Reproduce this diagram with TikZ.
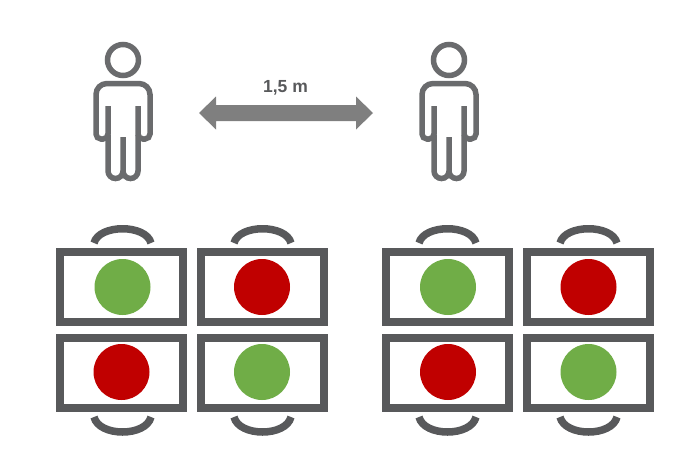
\documentclass[tikz,border=0pt]{standalone}
\usepackage{fontspec}
\setmainfont{Liberation Sans}
\definecolor{deskgray}{HTML}{58595B}
\definecolor{persongray}{HTML}{6A6B6D}
\definecolor{arrowgray}{HTML}{7F7F7F}
\definecolor{seatgreen}{HTML}{70AD47}
\definecolor{seatred}{HTML}{C00000}
\tikzset{
  desk/.style={draw=deskgray, line width=8pt, fill=white, minimum width=123pt, minimum height=70pt, inner sep=0pt},
  okseat/.style={circle, fill=seatgreen, minimum size=56pt, inner sep=0pt},
  noseat/.style={circle, fill=seatred, minimum size=56pt, inner sep=0pt},
  chair/.style={draw=deskgray, line width=7.5pt},
  figure line/.style={draw=persongray, line width=5.5pt}
}
% One standing person, x is the middle of the body
\newcommand{\person}[1]{
  \begin{scope}[shift={(#1,0)}]
    \draw[figure line] (0,60) circle (15.5);
    % Body with arms
    \draw[figure line, rounded corners=5pt] (-15,106) -- (-15,139) -- (-27,139)
      [rounded corners=11pt] -- (-27,83.5) -- (27,83.5)
      [rounded corners=5pt] -- (27,139) -- (15,139) -- (15,106);
    % Legs
    \draw[figure line] (-15,135) -- (-15,171) arc[start angle=180, end angle=0, radius=7.5]
      -- (0,137);
    \draw[figure line] (0,171) arc[start angle=180, end angle=0, radius=7.5] -- (15,135);
  \end{scope}
}
\begin{document}
\begin{tikzpicture}[x=1pt,y=-1pt]
\useasboundingbox (0,0) rectangle (700,463);
% Persons
\person{123}
\person{449}
% Distance
\fill[arrowgray] (199,113) -- (216,96.5) -- (216,105) -- (356,105) -- (356,96.5)
  -- (373,113) -- (356,129.5) -- (356,121) -- (216,121) -- (216,129.5) -- cycle;
\node[font=\bfseries, text=deskgray, scale=1.75] (distance) at (285.5,88) {1,5 m};
% Left desks
\node[desk] (deskA) at (121.5,287) {};
\node[desk] (deskB) at (262,287) {};
\node[desk] (deskC) at (121.5,372.5) {};
\node[desk] (deskD) at (262,372.5) {};
% Right desks
\node[desk] (deskE) at (447.5,287) {};
\node[desk] (deskF) at (588.5,287) {};
\node[desk] (deskG) at (447.5,372.5) {};
\node[desk] (deskH) at (588.5,372.5) {};
% Seats
\node[okseat] (seatA) at (122.5,287) {};
\node[noseat] (seatB) at (262,287) {};
\node[noseat] (seatC) at (121.5,372) {};
\node[okseat] (seatD) at (262,372) {};
\node[okseat] (seatE) at (448,287) {};
\node[noseat] (seatF) at (588.5,287) {};
\node[noseat] (seatG) at (448,372) {};
\node[okseat] (seatH) at (588.5,372) {};
% Chairs on top
\draw[chair] (94,243) .. controls (99,224) and (146,224) .. (151,243);
\draw[chair] (234,243) .. controls (239,224) and (286,224) .. (291,243);
\draw[chair] (419,243) .. controls (424,224) and (471,224) .. (476,243);
\draw[chair] (560,243) .. controls (565,224) and (612,224) .. (617,243);
% Chairs below
\draw[chair] (94,417) .. controls (99,437) and (146,437) .. (151,417);
\draw[chair] (234,417) .. controls (239,437) and (286,437) .. (291,417);
\draw[chair] (419,417) .. controls (424,437) and (471,437) .. (476,417);
\draw[chair] (560,417) .. controls (565,437) and (612,437) .. (617,417);
\end{tikzpicture}
\end{document}
